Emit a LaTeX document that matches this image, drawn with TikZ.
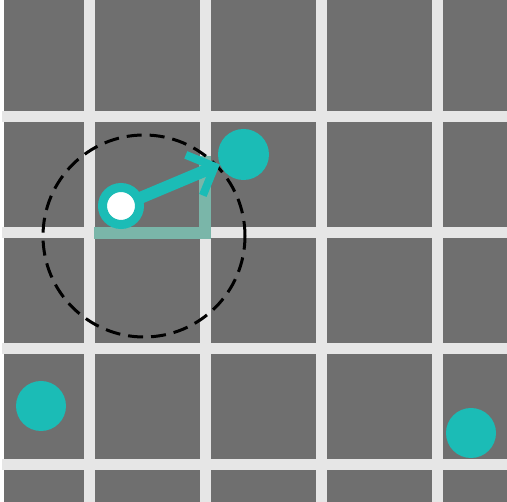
\documentclass[tikz,border=0pt]{standalone}
\usetikzlibrary{arrows.meta}
\definecolor{bggray}{RGB}{111,111,111}
\definecolor{gridline}{RGB}{230,230,230}
\definecolor{tealc}{RGB}{27,188,182}
\definecolor{lcol}{RGB}{122,182,169}
\tikzset{
  gridln/.style={gridline, line width=11pt},
  dot/.style={circle, fill=tealc, inner sep=0pt, minimum size=50pt},
  ringdot/.style={circle, draw=tealc, fill=white, line width=9pt, inner sep=0pt, minimum size=37pt},
  rangec/.style={circle, draw=black, line width=3pt, dash pattern=on 15pt off 8pt, inner sep=0pt, minimum size=202pt},
  lshape/.style={lcol, line width=12pt, line cap=butt, line join=miter},
  vec/.style={tealc, line width=12pt, line cap=butt, -{Straight Barb[length=22pt, width=44pt, line width=8pt, sharp]}}
}
\begin{document}
\begin{tikzpicture}[x=1pt, y=-1pt]
\useasboundingbox (0,0) rectangle (507,502);
\fill[white] (0,0) rectangle (507,502);
\fill[bggray] (4,0) rectangle (507,502);
\foreach \v in {89,205,321,437} \draw[gridln] (\v,0) -- (\v,502);
\foreach \h in {117,233,349,465} \draw[gridln] (2,\h) -- (507,\h);
% right-angle components
\coordinate (ls) at (94,233);
\coordinate (lc) at (204.5,233);
\coordinate (le) at (204.5,156);
\draw[lshape] (ls) -- (lc) -- (le);
% dashed range circle
\node[rangec] (range) at (144,236) {};
% circles
\node[dot, minimum size=51pt] (big) at (243.5,154.5) {};
\coordinate (ringc) at (121,206);
\draw[vec] (ringc) -- (big);
\node[ringdot] (ring) at (ringc) {};
\node[dot] (c1) at (41,406) {};
\node[dot] (c2) at (471,433) {};
\end{tikzpicture}
\end{document}
